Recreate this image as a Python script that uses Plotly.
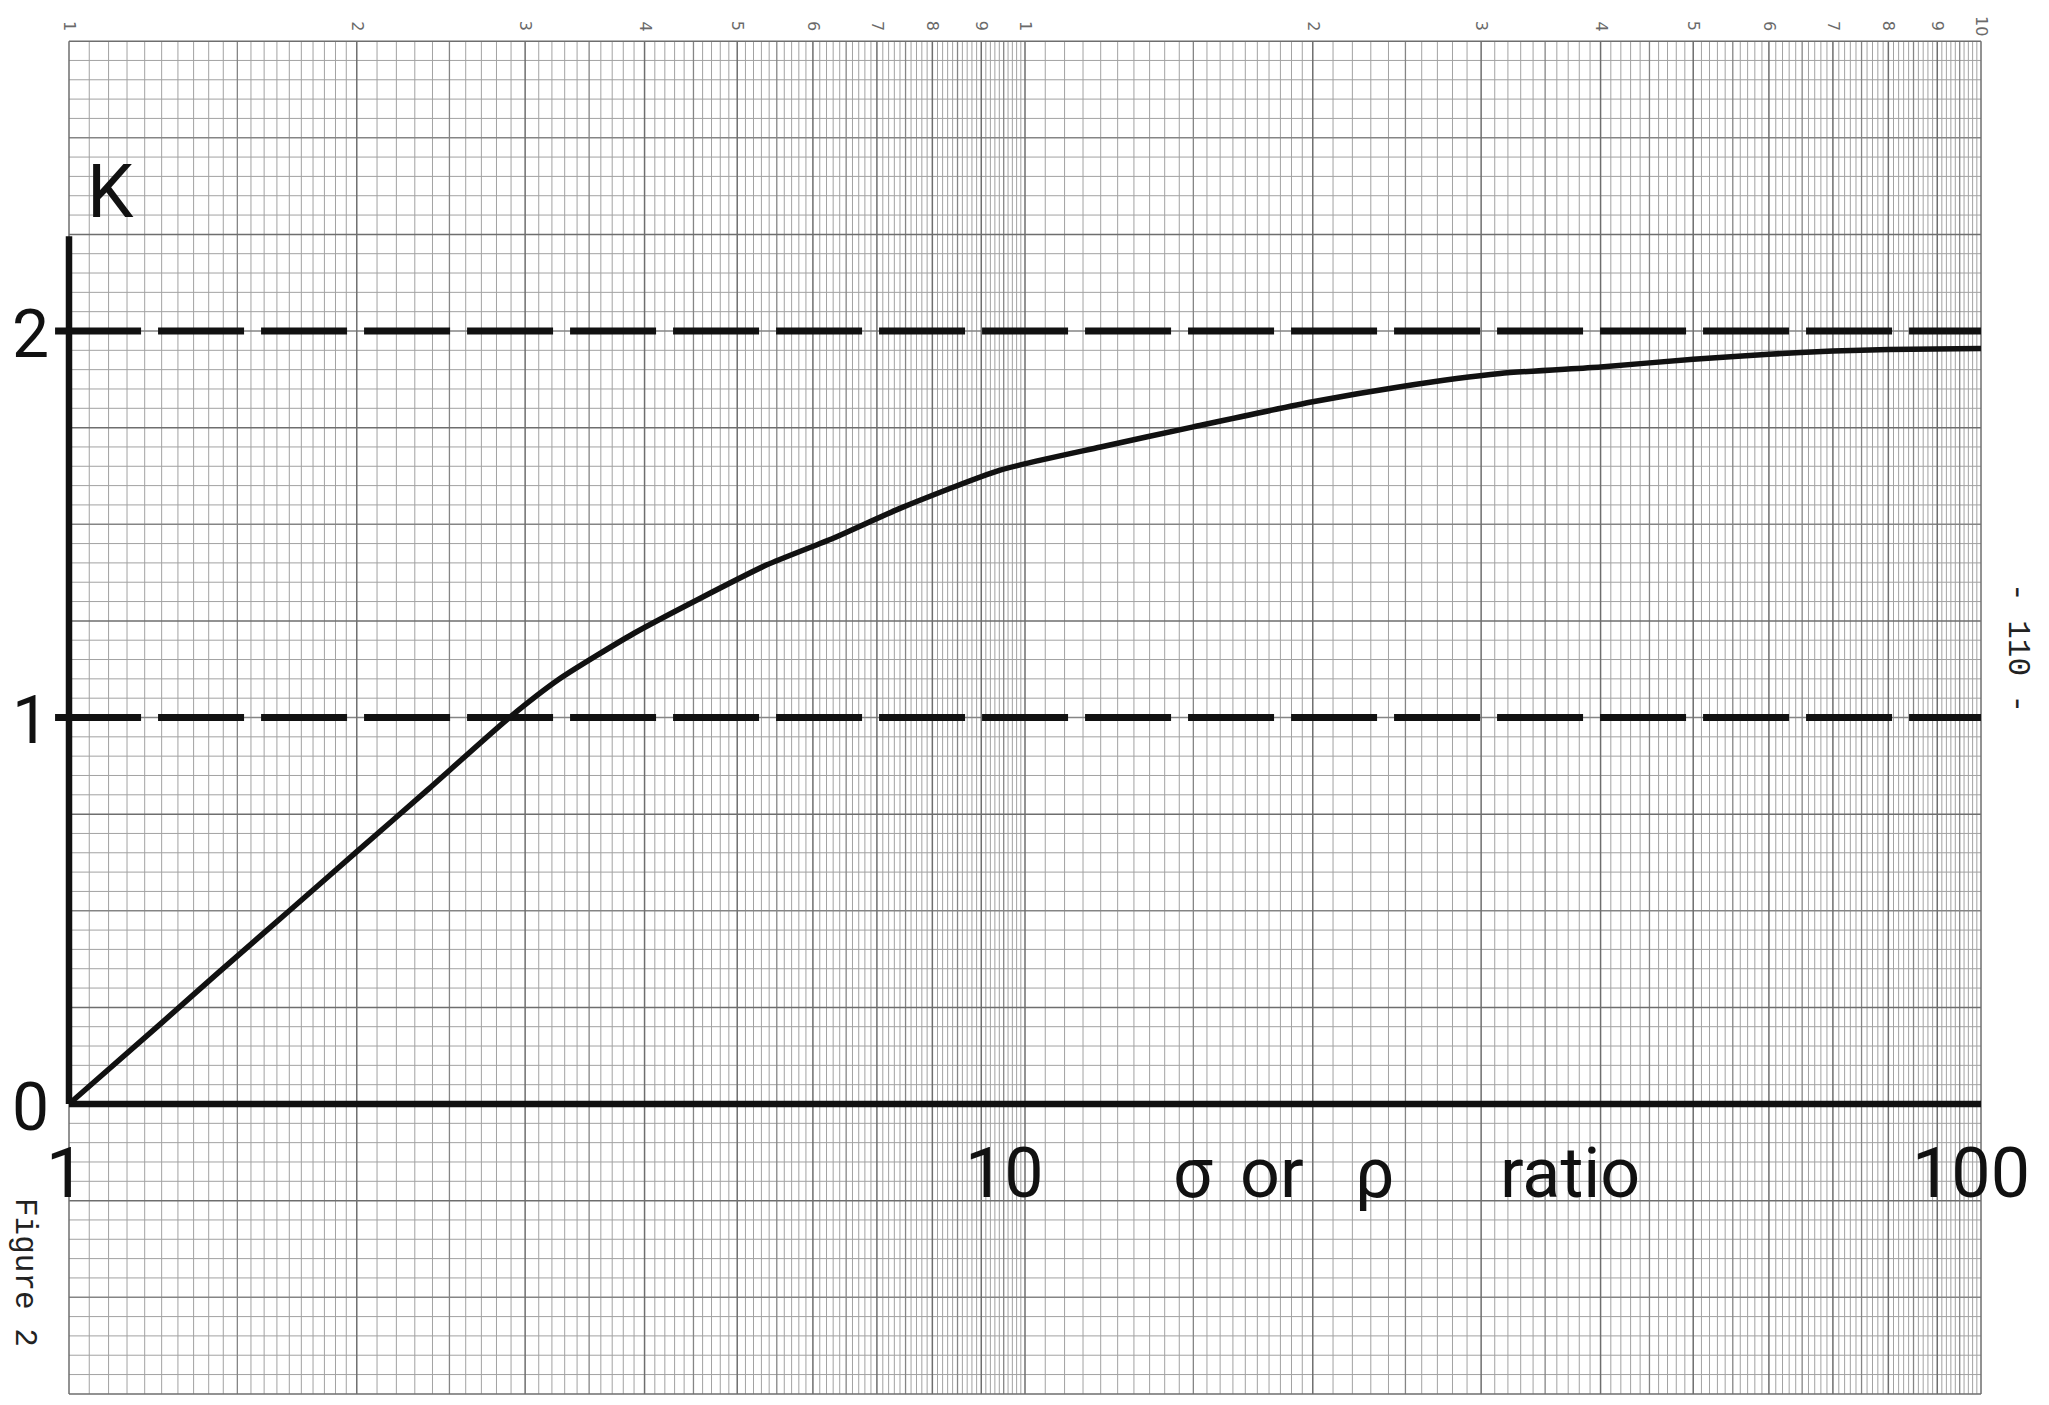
import math
import plotly.graph_objects as go

# ---------------- data ----------------
ratio = [1, 1.25, 1.43, 1.7, 2, 2.37, 2.87, 3.26, 3.9, 4.57, 5.37, 6.3, 7.4,
         9.42, 12, 15, 20, 24.7, 31.4, 40, 50, 60, 70, 80, 100]
K_curve = [0, 0.21, 0.338, 0.50, 0.653, 0.812, 0.994, 1.10, 1.218, 1.308,
           1.395, 1.464, 1.541, 1.640, 1.70, 1.752, 1.817, 1.856, 1.89, 1.907,
           1.927, 1.940, 1.948, 1.952, 1.955]
ref_levels = [1, 2]                     # dashed reference lines
x_tick_vals = [1, 10, 100]
x_tick_text = ["1", "10", "100"]
y_tick_vals = [0, 1, 2]
y_tick_text = ["0", "1", "2"]
paper_cycle_vals = [1, 2, 3, 4, 5, 6, 7, 8, 9, 10, 20, 30, 40, 50, 60, 70, 80, 90, 100]
paper_cycle_text = ["1", "2", "3", "4", "5", "6", "7", "8", "9",
                    "1", "2", "3", "4", "5", "6", "7", "8", "9", "10"]
x_title_parts = ["σ", "or", "ρ", "ratio"]
y_title = "K"

# ---------------- geometry ----------------
W, H = 2033, 1389          # figure size (page has 8px body margin)
X0, DEC = 61.0, 956.0      # px of x=1, px per decade
Y0, UNIT = 1096.0, 386.5   # px of K=0, px per K unit
x_range = [-X0 / DEC, (W - X0) / DEC]
y_range = [(Y0 - H) / UNIT, Y0 / UNIT]
PAPER_X = (1, 100)
PAPER_Y = (-0.75, 2.75)

def px(fx):   # figure px -> paper fraction
    return fx / W

def py(fy):
    return 1 - fy / H

fig = go.Figure()

# ---------------- graph paper ----------------
vert = {"minor": [], "medium": [], "heavy": []}
seen = set()
for base in (1, 10):
    hs = list(range(100, 200, 5)) + list(range(200, 1001, 10))
    for h in hs:
        v = base * h
        if v in seen:
            continue
        seen.add(v)
        cat = "heavy" if h % 100 == 0 else ("medium" if h % 50 == 0 else "minor")
        vert[cat].append(v / 100.0)

horiz = {"minor": [], "medium": [], "heavy": []}
for i in range(71):
    k = PAPER_Y[0] + 0.05 * i
    cat = "heavy" if i % 10 == 0 else ("medium" if i % 5 == 0 else "minor")
    horiz[cat].append(k)

styles = {"minor": ("#a2a2a2", 1.0), "medium": ("#858585", 1.3), "heavy": ("#6e6e6e", 1.5)}
for cat in ("minor", "medium", "heavy"):
    xs, ys = [], []
    for v in vert[cat]:
        xs += [v, v, None]
        ys += [PAPER_Y[0], PAPER_Y[1], None]
    for k in horiz[cat]:
        xs += [PAPER_X[0], PAPER_X[1], None]
        ys += [k, k, None]
    col, wd = styles[cat]
    fig.add_trace(go.Scatter(x=xs, y=ys, mode="lines",
                             line=dict(color=col, width=wd),
                             hoverinfo="skip", showlegend=False))

# ---------------- drawn axes ----------------
ink = "#111111"
fig.add_trace(go.Scatter(x=[1, 100], y=[0, 0], mode="lines",
                         line=dict(color=ink, width=6.5), showlegend=False))
fig.add_trace(go.Scatter(x=[1, 1], y=[0, 2.245], mode="lines",
                         line=dict(color=ink, width=6.5), showlegend=False))

# dashed reference lines
for lvl in ref_levels:
    fig.add_trace(go.Scatter(x=[0.967, 100], y=[lvl, lvl], mode="lines",
                             line=dict(color=ink, width=7, dash="86px,17px"),
                             showlegend=False))

# curve
fig.add_trace(go.Scatter(x=ratio, y=K_curve, mode="lines",
                         line=dict(color=ink, width=5.5, shape="spline", smoothing=0.6),
                         showlegend=False))

# ---------------- text ----------------
FONT = "Roboto, DejaVu Sans, sans-serif"
big = dict(family=FONT, size=70, color=ink)
ylab = dict(family=FONT, size=66, color=ink)
ann = []

# y tick labels
for v, t in zip(y_tick_vals, y_tick_text):
    ann.append(dict(x=px(22), xref="paper", y=v, yref="y", text=t, showarrow=False,
                    xanchor="center", yanchor="middle", yshift=-3, font=ylab))

# x tick labels
x_nudge = [-4, -21, -10]
for v, t, n in zip(x_tick_vals, x_tick_text, x_nudge):
    ann.append(dict(x=math.log10(v), xref="x", y=0, yref="y", text=t, showarrow=False,
                    xanchor="center", yanchor="middle", xshift=n, yshift=-69, font=big))

# x title pieces
title_cx = [1185, 1264, 1367, 1562]
for t, cx in zip(x_title_parts, title_cx):
    ann.append(dict(x=px(cx), xref="paper", y=0, yref="y", text=t, showarrow=False,
                    xanchor="center", yanchor="middle", yshift=-69, font=big))

# K label
ann.append(dict(x=px(102), xref="paper", y=py(184), yref="paper", text=y_title,
                showarrow=False, xanchor="center", yanchor="middle",
                font=dict(family=FONT, size=74, color=ink)))

# typewritten side texts
mono = dict(family="Liberation Mono, DejaVu Sans Mono, monospace", size=31, color="#222222")
ann.append(dict(x=px(17), xref="paper", y=py(1264), yref="paper", text="Figure 2",
                showarrow=False, textangle=90, xanchor="center", yanchor="middle", font=mono))
ann.append(dict(x=px(2010), xref="paper", y=py(640), yref="paper", text="- 110 -",
                showarrow=False, textangle=90, xanchor="center", yanchor="middle", font=mono))

# printed cycle numbers on the graph paper
small = dict(family="DejaVu Sans, sans-serif", size=16, color="#6a6a6a")
for v, t in zip(paper_cycle_vals, paper_cycle_text):
    ann.append(dict(x=math.log10(v), xref="x", y=py(18), yref="paper", text=t,
                    showarrow=False, textangle=90, xanchor="center", yanchor="middle",
                    font=small))

fig.update_layout(
    width=W, height=H,
    margin=dict(l=0, r=0, t=0, b=0),
    paper_bgcolor="white", plot_bgcolor="white",
    showlegend=False,
    annotations=ann,
    xaxis=dict(type="log", range=x_range, showgrid=False, zeroline=False,
               showticklabels=False, showline=False, ticks="", fixedrange=True),
    yaxis=dict(range=y_range, showgrid=False, zeroline=False,
               showticklabels=False, showline=False, ticks="", fixedrange=True),
)

fig.write_html("out.html", config={"staticPlot": True})
